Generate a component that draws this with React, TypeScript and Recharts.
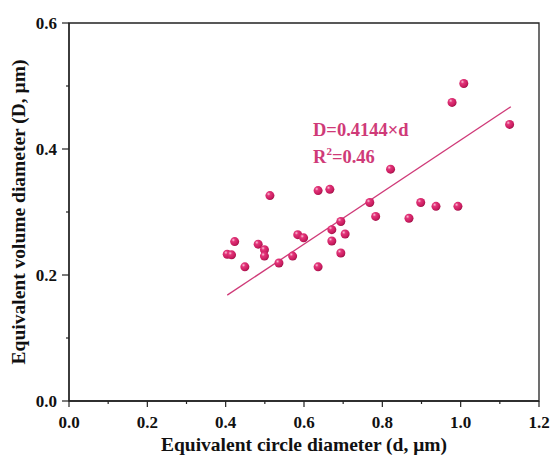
import React from 'react';
import { ScatterChart, Scatter, XAxis, YAxis, ReferenceLine, ReferenceArea, Label } from 'recharts';

// values
const circleDiameter = [
  1.008, 0.978, 1.125, 0.821, 0.513, 0.636, 0.666, 0.768, 0.898, 0.937,
  0.993, 0.783, 0.868, 0.694, 0.671, 0.705, 0.584, 0.599, 0.671, 0.423,
  0.483, 0.499, 0.499, 0.404, 0.415, 0.694, 0.571, 0.536, 0.449, 0.636,
];
const volumeDiameter = [
  0.504, 0.474, 0.439, 0.368, 0.326, 0.334, 0.336, 0.315, 0.315, 0.309,
  0.309, 0.293, 0.290, 0.285, 0.272, 0.265, 0.264, 0.259, 0.254, 0.253,
  0.249, 0.240, 0.230, 0.233, 0.232, 0.235, 0.230, 0.219, 0.213, 0.213,
];
const fitLine = [
  { x: 0.404, y: 0.168 },
  { x: 1.128, y: 0.467 },
];
const xTicks = [0, 0.1, 0.2, 0.3, 0.4, 0.5, 0.6, 0.7, 0.8, 0.9, 1.0, 1.1, 1.2];
const yTicks = [0, 0.1, 0.2, 0.3, 0.4, 0.5, 0.6];

const points = circleDiameter.map((d, i) => ({ d, D: volumeDiameter[i] }));

const FONT = "'Liberation Serif', 'Times New Roman', serif";
const AXIS = '#222';
const PINK = '#cf3a78';

const isMajor = (v: number) => Math.round(v * 10) % 2 === 0;

const XTick = (props: any) => {
  const { x, y, payload } = props;
  const v = payload.value as number;
  const major = isMajor(v);
  return (
    <g>
      <line x1={x} x2={x} y1={y} y2={y + (major ? 6 : 3)} stroke={AXIS} strokeWidth={1.2} />
      {major && (
        <text x={x} y={y + 27} textAnchor="middle" fontFamily={FONT} fontWeight="bold" fontSize={17} fill="#111">
          {v.toFixed(1)}
        </text>
      )}
    </g>
  );
};

const YTick = (props: any) => {
  const { x, y, payload } = props;
  const v = payload.value as number;
  const major = isMajor(v);
  return (
    <g>
      <line x1={x} x2={x - (major ? 7 : 3)} y1={y} y2={y} stroke={AXIS} strokeWidth={1.2} />
      {major && (
        <text x={x - 12} y={y + 5.5} textAnchor="end" fontFamily={FONT} fontWeight="bold" fontSize={17} fill="#111">
          {v.toFixed(1)}
        </text>
      )}
    </g>
  );
};

const Ball = (props: any) => {
  const { cx, cy } = props;
  return <circle cx={cx} cy={cy} r={4.5} fill="url(#ball)" />;
};

const FitText = () => (
  <g fontFamily={FONT} fontWeight="bold" fill={PINK}>
    <text x={313} y={136} fontSize={18.5}>D=0.4144×d</text>
    <text x={313} y={163} fontSize={18.5}>
      R<tspan fontSize={11} dy={-8}>2</tspan>
      <tspan dy={8}>=0.46</tspan>
    </text>
  </g>
);

export default function App() {
  return (
    <div style={{ position: 'absolute', left: 0, top: 0, width: 553, height: 459, background: '#fff' }}>
      <ScatterChart width={553} height={459} margin={{ top: 23, right: 14, bottom: 0, left: 0 }}>
        <defs>
          <radialGradient id="ball" cx="35%" cy="32%" r="70%">
            <stop offset="0%" stopColor="#f9c4d8" />
            <stop offset="28%" stopColor="#e3357a" />
            <stop offset="80%" stopColor="#c81b5e" />
            <stop offset="100%" stopColor="#9e1248" />
          </radialGradient>
        </defs>
        <ReferenceArea x1={0} x2={1.2} y1={0} y2={0.6} fill="none" stroke={AXIS} strokeWidth={1.3} />
        <XAxis
          type="number"
          dataKey="d"
          domain={[0, 1.2]}
          ticks={xTicks}
          interval={0}
          height={58}
          tickSize={0}
          tickMargin={0}
          tickLine={false}
          tick={<XTick />}
          axisLine={{ stroke: AXIS, strokeWidth: 1.3 }}
        >
          <Label
            content={() => (
              <text x={304} y={451} textAnchor="middle" fontFamily={FONT} fontWeight="bold" fontSize={19.5} fill="#111">
                Equivalent circle diameter (d, μm)
              </text>
            )}
          />
        </XAxis>
        <YAxis
          type="number"
          dataKey="D"
          domain={[0, 0.6]}
          ticks={yTicks}
          interval={0}
          width={69}
          tickSize={0}
          tickMargin={0}
          tickLine={false}
          tick={<YTick />}
          axisLine={{ stroke: AXIS, strokeWidth: 1.3 }}
        >
          <Label
            content={() => (
              <text
                x={25}
                y={212}
                transform="rotate(-90 25 212)"
                textAnchor="middle"
                fontFamily={FONT}
                fontWeight="bold"
                fontSize={19.5}
                fill="#111"
              >
                Equivalent volume diameter (D, μm)
              </text>
            )}
          />
        </YAxis>
        <ReferenceLine segment={fitLine} stroke={PINK} strokeWidth={1.3} label={<FitText />} />
        <Scatter data={points} shape={<Ball />} isAnimationActive={false} />
      </ScatterChart>
    </div>
  );
}
